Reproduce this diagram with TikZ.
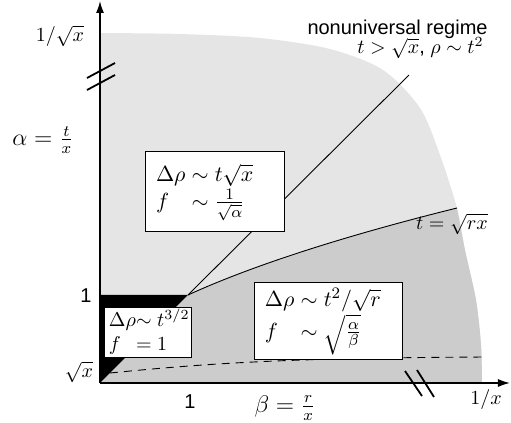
\documentclass[tikz,border=0pt]{standalone}
\usepackage[no-math]{fontspec}
\setmainfont{Liberation Sans}
\usepackage{amsmath}
\usetikzlibrary{arrows.meta}

\begin{document}
\begin{tikzpicture}[
  x=0.5pt, y=-0.5pt,
  lightzone/.style={fill=black!10},
  darkzone/.style={fill=black!20},
  corezone/.style={fill=black},
  axis/.style={-{Latex[length=6pt,width=4pt]}, line width=0.75pt},
  regline/.style={line width=0.45pt},
  cutmark/.style={line width=0.9pt},
  dashline/.style={dash pattern=on 4pt off 3pt, line width=0.45pt},
  box/.style={draw, fill=white, line width=0.5pt, align=left, inner xsep=5pt, inner ysep=0pt, font=\fontsize{11}{13}\selectfont},
  smallbox/.style={box, inner xsep=2pt, font=\fontsize{10}{12}\selectfont},
  lbl/.style={inner sep=0pt}
]
\useasboundingbox (0,0) rectangle (511,423);

\coordinate (O) at (100,383);
\coordinate (ytip) at (100,1);
\coordinate (xtip) at (510,383);
\coordinate (corner) at (188,295);
\coordinate (diagend) at (409,75);
\coordinate (crossend) at (457,208);
\coordinate (dashstart) at (110,373);
\coordinate (dashend) at (487,357);

% regions
\fill[lightzone] (O) -- plot[smooth] coordinates {(100,33) (180,34) (260,38) (330,49) (383,70) (420,108) (440,155) (457,208) (465,250) (476,300) (481,345) (482,383)} -- cycle;
\fill[darkzone] (O) -- (corner) .. controls (260,262) and (360,232) .. (crossend)
  -- plot[smooth] coordinates {(457,208) (465,250) (476,300) (481,345) (482,383)} -- cycle;
\fill[corezone] (O) -- (100,295) -- (corner) -- cycle;

% boundaries
\draw[regline] (corner) -- (diagend);
\draw[regline] (corner) .. controls (260,262) and (360,232) .. (crossend);
\draw[dashline] (dashstart) .. controls (220,362) and (300,358) .. (dashend);

% regimes
\node[box, text width=59.5pt, minimum height=40pt] (upper) at (215.5,192)
  {$\begin{array}{@{}l@{\;}l@{}}\Delta\rho & \sim t\sqrt{x}\\ f & \sim \frac{1}{\sqrt{\alpha}}\end{array}$};
\node[box, text width=64pt, minimum height=38.5pt] (lower) at (329,321.5)
  {$\begin{array}{@{}l@{\;}l@{}}\Delta\rho & \sim t^2/\sqrt{r}\\ f & \sim \sqrt{\frac{\alpha}{\beta}}\end{array}$};
\node[smallbox, text width=39.5pt, minimum height=25pt] (core) at (148.5,333)
  {$\begin{array}{@{}l@{}l@{}}\Delta\rho & \sim t^{3/2}\\ f & = 1\end{array}$};

% axes
\draw[axis] (O) -- (ytip);
\draw[axis] (O) -- (xtip);
\draw[cutmark] (87,78) -- (115,63);
\draw[cutmark] (87,90) -- (115,75);
\draw[cutmark] (405,371) -- (422,396);
\draw[cutmark] (417,370) -- (434,397);

% labels
\node[lbl] (ytop) at (60,36) {$1/\sqrt{x}$};
\node[lbl, font=\large] (alpha) at (43,140) {$\alpha=\frac{t}{x}$};
\node[lbl] (yone) at (86,296) {1};
\node[lbl] (ysqrt) at (79,372) {$\sqrt{x}$};
\node[lbl] (xone) at (190,402) {1};
\node[lbl, font=\large] (beta) at (285,408) {$\beta=\frac{r}{x}$};
\node[lbl] (xend) at (486,400) {$1/x$};
\node[lbl, anchor=base east] (regime) at (488,34) {nonuniversal regime};
\node[lbl, anchor=base east] (regimecond) at (484,54) {$t>\sqrt{x}$, $\rho\sim t^2$};
\node[lbl] (crossover) at (452,224) {$t=\sqrt{rx}$};
\end{tikzpicture}
\end{document}
